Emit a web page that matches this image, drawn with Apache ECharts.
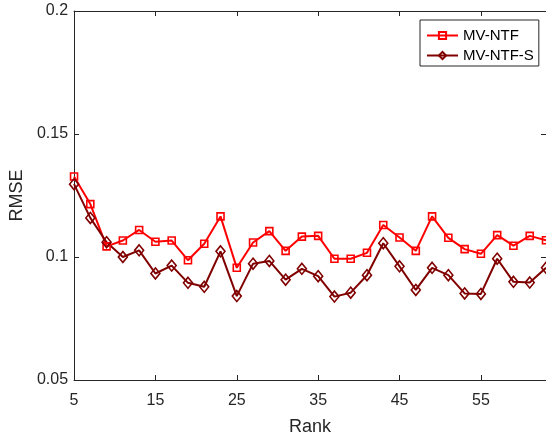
<!DOCTYPE html>
<html>
<head>
<meta charset="utf-8">
<script src="https://cdn.jsdelivr.net/npm/echarts@6/dist/echarts.min.js"></script>
<style>
html,body{margin:0;padding:0;background:#fff;}
#chart{width:546px;height:441px;}
</style>
</head>
<body>
<div id="chart"></div>
<script>
const ranks = [5,7,9,11,13,15,17,19,21,23,25,27,29,31,33,35,37,39,41,43,45,47,49,51,53,55,57,59,61,63];
const mvNTF = [0.1327,0.1215,0.1043,0.1067,0.1110,0.1062,0.1067,0.0987,0.1054,0.1165,0.0956,0.1059,0.1105,0.1025,0.1083,0.1086,0.0993,0.0993,0.1017,0.1130,0.1079,0.1025,0.1165,0.1078,0.1032,0.1013,0.1089,0.1046,0.1086,0.1068];
const mvNTFS = [0.1296,0.1159,0.1060,0.1000,0.1027,0.0933,0.0965,0.0895,0.0879,0.1023,0.0841,0.0973,0.0984,0.0908,0.0952,0.0922,0.0839,0.0855,0.0926,0.1056,0.0962,0.0866,0.0956,0.0926,0.0852,0.0850,0.0993,0.0899,0.0896,0.0956];
const xTicks = [5,15,25,35,45,55];
const yTicks = [0.05,0.1,0.15,0.2];
const seriesNames = ['MV-NTF','MV-NTF-S'];

const axisColor = '#262626';
const font = 'Liberation Sans, Arial, Helvetica, sans-serif';
const chart = echarts.init(document.getElementById('chart'));

function pairs(ys){ return ranks.map((r,i)=>[r, ys[i]]); }

const axLine = {show:true, lineStyle:{color:axisColor, width:1}};
const axTick = {show:true, inside:true, length:5, lineStyle:{color:axisColor, width:1}};

chart.setOption({
  animation:false,
  backgroundColor:'#fff',
  grid:{left:71.5, right:-3, top:11, bottom:57, containLabel:false},
  legend:{
    orient:'vertical', left:420, top:20,
    data:seriesNames,
    backgroundColor:'#fff', borderColor:axisColor, borderWidth:1,
    padding:[8,5,3,6], itemGap:5, itemWidth:31, itemHeight:9,
    textStyle:{fontFamily:font, fontSize:15, color:'#000'}
  },
  xAxis:[{
    type:'value', min:5, max:63, interval:10, position:'bottom',
    axisLine:axLine, axisTick:axTick, splitLine:{show:false},
    axisLabel:{margin:13, fontFamily:font, fontSize:16, color:axisColor, showMaxLabel:false,
      formatter:v=> xTicks.includes(v) ? String(v) : ''},
    name:'Rank', nameLocation:'middle', nameGap:38,
    nameTextStyle:{fontFamily:font, fontSize:18, color:axisColor}
  },{
    type:'value', min:5, max:63, interval:10, position:'top',
    axisLine:axLine, axisTick:axTick, splitLine:{show:false}, axisLabel:{show:false}
  }],
  yAxis:[{
    type:'value', min:0.05, max:0.2, interval:0.05, position:'left',
    axisLine:axLine, axisTick:axTick, splitLine:{show:false},
    axisLabel:{margin:6, fontFamily:font, fontSize:16, color:axisColor,
      formatter:v=>{ const t = yTicks.find(k=>Math.abs(k-v)<1e-9); return t===undefined ? '' : String(t); }},
    name:'RMSE', nameLocation:'middle', nameGap:40,
    nameTextStyle:{fontFamily:font, fontSize:18, color:axisColor}
  },{
    type:'value', min:0.05, max:0.2, interval:0.05, position:'right',
    axisLine:axLine, axisTick:axTick, splitLine:{show:false}, axisLabel:{show:false}
  }],
  series:[{
    name:seriesNames[0], type:'line', data:pairs(mvNTF),
    symbol:'rect', symbolSize:7,
    lineStyle:{color:'#ff0000', width:2},
    itemStyle:{color:'none', borderColor:'#ff0000', borderWidth:1.6},
    emphasis:{disabled:true}
  },{
    name:seriesNames[1], type:'line', data:pairs(mvNTFS),
    symbol:'diamond', symbolSize:[9,11],
    lineStyle:{color:'#800000', width:2},
    itemStyle:{color:'none', borderColor:'#800000', borderWidth:1.6},
    emphasis:{disabled:true}
  }]
});
</script>
</body>
</html>
